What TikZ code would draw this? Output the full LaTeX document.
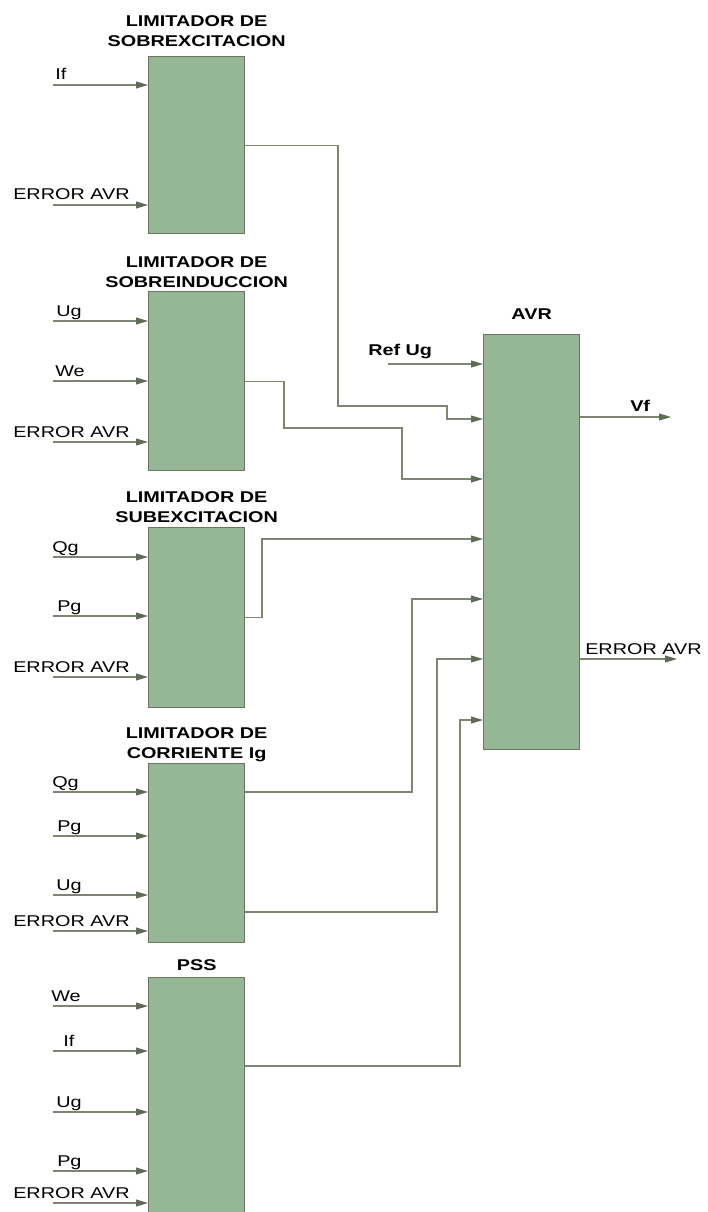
\documentclass[tikz,border=0pt]{standalone}
\usepackage{fontspec}
\setmainfont{Liberation Sans}[FakeStretch=1.27]
\usetikzlibrary{positioning, arrows.meta}
\definecolor{BlockGreen}{HTML}{95B796}
\definecolor{BlockEdge}{HTML}{6B7562}
\definecolor{WireGrey}{HTML}{7E8575}
\definecolor{TipOlive}{HTML}{5F6B55}

\begin{document}
\begin{tikzpicture}[
  x=0.75pt, y=-0.75pt,
  font=\fontsize{11.7}{15.4}\selectfont,
  blk/.style={draw=BlockEdge, fill=BlockGreen, line width=1pt, minimum width=72pt, anchor=north west, inner sep=0pt},
  ttl/.style={font=\fontsize{11.7}{15.4}\selectfont\bfseries, align=center, inner sep=0pt, text depth=0pt},
  wire/.style={draw=WireGrey, line width=0.8pt},
  sig/.style={wire, -{Triangle[length=9pt, width=5.2pt, color=TipOlive]}},
  lbl/.style={inner sep=0pt, anchor=base west},
  blbl/.style={lbl, font=\fontsize{11.7}{15.4}\selectfont\bfseries},
]
  \clip (0,0) rectangle (707,1212);

  % Limiter blocks
  \node[blk, minimum height=132.75pt] (lso) at (148,56) {};
  \node[blk, minimum height=134.25pt] (lsi) at (148,291) {};
  \node[blk, minimum height=135pt] (lsu) at (148,527) {};
  \node[blk, minimum height=134.25pt] (lci) at (148,763) {};
  \node[blk, minimum height=180pt] (pss) at (148,977) {};
  \node[blk, minimum height=311.25pt] (avr) at (483,334) {};

  \node[ttl, above=6.75pt of lso] (tlso) {LIMITADOR DE\\SOBREXCITACION};
  \node[ttl, above=2.25pt of lsi] (tlsi) {LIMITADOR DE\\SOBREINDUCCION};
  \node[ttl, above=3pt of lsu] (tlsu) {LIMITADOR DE\\SUBEXCITACION};
  \node[ttl, above=3pt of lci] (tlci) {LIMITADOR DE\\CORRIENTE Ig};
  \node[ttl, above=4.5pt of pss] (tpss) {PSS};
  \node[ttl, above=10.5pt of avr] (tavr) {AVR};

  % Inputs
  \foreach \b/\y/\t/\lx in {lso/85/If/55, lso/205/ERROR AVR/13,
      lsi/321/Ug/56, lsi/381/We/55, lsi/442/ERROR AVR/13,
      lsu/557/Qg/52, lsu/616/Pg/57, lsu/677/ERROR AVR/13,
      lci/792/Qg/52, lci/836/Pg/57, lci/895/Ug/56, lci/931/ERROR AVR/13,
      pss/1006/We/51, pss/1051/If/63, pss/1112/Ug/56, pss/1171/Pg/57, pss/1203/ERROR AVR/13} {
    \coordinate (in\y) at (53,\y);
    \draw[sig] (in\y) -- (in\y -| \b.west);
    \node[lbl] (t\y) at (\lx,\y-5) {\t};
  }

  % AVR inputs
  \foreach \n/\y in {1/364, 2/419, 3/479, 4/539, 5/599, 6/659, 7/720} {
    \coordinate (a\n) at (avr.west |- 0,\y);
  }
  \coordinate (ref) at (388,364);
  \draw[sig] (ref) -- (a1);
  \node[blbl] (tref) at (368,355) {Ref Ug};

  \draw[sig] (lso.east) -| (338,406) -| (447,419) -- (a2);
  \draw[sig] (lsi.east) -| (284,428) -| (402,479) -- (a3);
  \draw[sig] (lsu.east) -| (262,539) -- (a4);
  \draw[sig] (lci.east |- 0,792) -| (412,599) -- (a5);
  \draw[sig] (lci.east |- 0,912) -| (437,659) -- (a6);
  \draw[sig] (pss.east |- 0,1066) -| (460,720) -- (a7);

  % Outputs
  \coordinate (vf) at (671,417);
  \draw[sig] (avr.east |- vf) -- (vf);
  \node[blbl] (tvf) at (630,411) {Vf};

  \coordinate (err) at (677,659);
  \draw[sig] (avr.east |- err) -- (err);
  \node[lbl] (terr) at (585,654) {ERROR AVR};
\end{tikzpicture}
\end{document}
